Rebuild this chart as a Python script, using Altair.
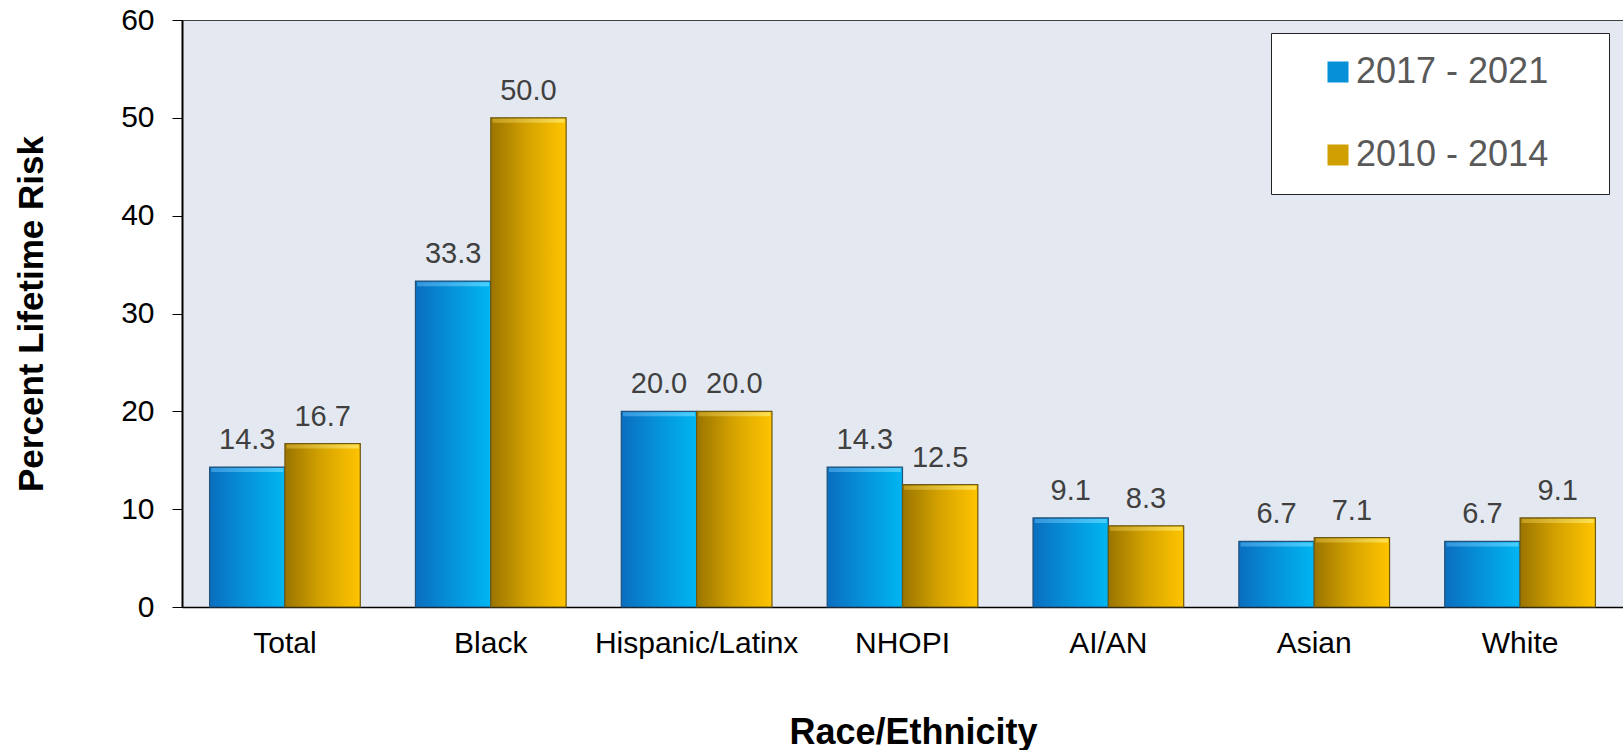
import altair as alt
import pandas as pd

categories = ["Total", "Black", "Hispanic/Latinx", "NHOPI", "AI/AN", "Asian", "White"]
periods = ["2017 - 2021", "2010 - 2014"]
values_2017_2021 = [14.3, 33.3, 20.0, 14.3, 9.1, 6.7, 6.7]
values_2010_2014 = [16.7, 50.0, 20.0, 12.5, 8.3, 7.1, 9.1]
y_ticks = [0, 10, 20, 30, 40, 50, 60]

rows = []
for c, a, b in zip(categories, values_2017_2021, values_2010_2014):
    rows.append({"group": c, "period": periods[0], "value": a})
    rows.append({"group": c, "period": periods[1], "value": b})
df = pd.DataFrame(rows)

FONT = "Liberation Sans"

blue_grad = alt.LinearGradient(
    gradient="linear",
    stops=[alt.GradientStop(color="#0a6ebf", offset=0),
           alt.GradientStop(color="#0593da", offset=0.5),
           alt.GradientStop(color="#00b6f2", offset=1)],
    x1=0, x2=1, y1=0, y2=0)
gold_grad = alt.LinearGradient(
    gradient="linear",
    stops=[alt.GradientStop(color="#9a7400", offset=0),
           alt.GradientStop(color="#d6a400", offset=0.5),
           alt.GradientStop(color="#ffc400", offset=1)],
    x1=0, x2=1, y1=0, y2=0)
blue_top = alt.LinearGradient(
    gradient="linear",
    stops=[alt.GradientStop(color="#3a9ae0", offset=0),
           alt.GradientStop(color="#4fd2ff", offset=1)],
    x1=0, x2=1, y1=0, y2=0)
gold_top = alt.LinearGradient(
    gradient="linear",
    stops=[alt.GradientStop(color="#c9a020", offset=0),
           alt.GradientStop(color="#ffe45a", offset=1)],
    x1=0, x2=1, y1=0, y2=0)

x_enc = alt.X(
    "group:N", sort=categories,
    scale=alt.Scale(paddingInner=0.268, paddingOuter=0.134),
    axis=alt.Axis(title="Race/Ethnicity", labelAngle=0, ticks=False,
                  labelFontSize=30, labelColor="black", labelFont=FONT,
                  labelLimit=0,
                  labelPadding=21, domainColor="black", domainWidth=1.5,
                  titleFontSize=36, titleFontWeight="bold", titleFont=FONT,
                  titleColor="black", titleX=731, titleY=136,
                  titleBaseline="alphabetic", titleAlign="center"))
xoff = alt.XOffset("period:N", sort=periods,
                   scale=alt.Scale(domain=periods, paddingInner=0, paddingOuter=0))
y_enc = alt.Y(
    "value:Q", scale=alt.Scale(domain=[0, 60]),
    axis=alt.Axis(values=y_ticks, title="Percent Lifetime Risk", grid=False,
                  tickSize=10, tickColor="black", tickWidth=1,
                  domainColor="black", domainWidth=2,
                  labelFontSize=30, labelColor="black", labelFont=FONT,
                  labelPadding=18,
                  titleFontSize=35, titleFontWeight="bold", titleFont=FONT,
                  titleColor="black", titleAngle=-90, titleX=-140, titleY=293.5,
                  titleBaseline="alphabetic", titleAlign="center"))

base = alt.Chart(df).encode(x=x_enc, xOffset=xoff, y=y_enc)

legend_bars = base.mark_bar().encode(
    color=alt.Color("period:N", sort=periods,
                    scale=alt.Scale(domain=periods, range=["#0590d8", "#d0a000"]),
                    legend=alt.Legend(title="x", titleOrient="right", titleOpacity=0,
                                      titleFontSize=20, titlePadding=28,
                                      orient="none", legendX=1089, legendY=13,
                                      direction="vertical", fillColor="white",
                                      strokeColor="#222222", padding=21,
                                      symbolType="square", symbolSize=441,
                                      symbolStrokeWidth=1,
                                      labelFontSize=36, labelColor="#595959",
                                      labelFont=FONT, rowPadding=47,
                                      labelLimit=0,
                                      symbolOffset=28, labelOffset=0)))

blue_bars = base.transform_filter(alt.datum.period == periods[0]).mark_bar(
    fill=blue_grad, stroke="#24527a", strokeWidth=1.2)
gold_bars = base.transform_filter(alt.datum.period == periods[1]).mark_bar(
    fill=gold_grad, stroke="#6e5a14", strokeWidth=1.2)

blue_bevel = base.transform_filter(alt.datum.period == periods[0]).mark_tick(
    color=blue_top, thickness=4, size=72, yOffset=3, opacity=0.9)
gold_bevel = base.transform_filter(alt.datum.period == periods[1]).mark_tick(
    color=gold_top, thickness=4, size=72, yOffset=3, opacity=0.9)

labels = base.mark_text(dy=-18, baseline="alphabetic", fontSize=29,
                        color="#404040", font=FONT).encode(
    text=alt.Text("value:Q", format=".1f"))

chart = alt.layer(legend_bars, blue_bars, gold_bars, blue_bevel, gold_bevel, labels).properties(
    width=1441, height=587,
    autosize=alt.AutoSizeParams(type="none"),
    padding={"left": 182, "top": 20, "right": 0, "bottom": 143},
    background="white",
).configure_view(fill="#e4e9f1", stroke="#404040", strokeWidth=1)

chart.save("out.html", embed_options={"renderer": "svg", "actions": False})
